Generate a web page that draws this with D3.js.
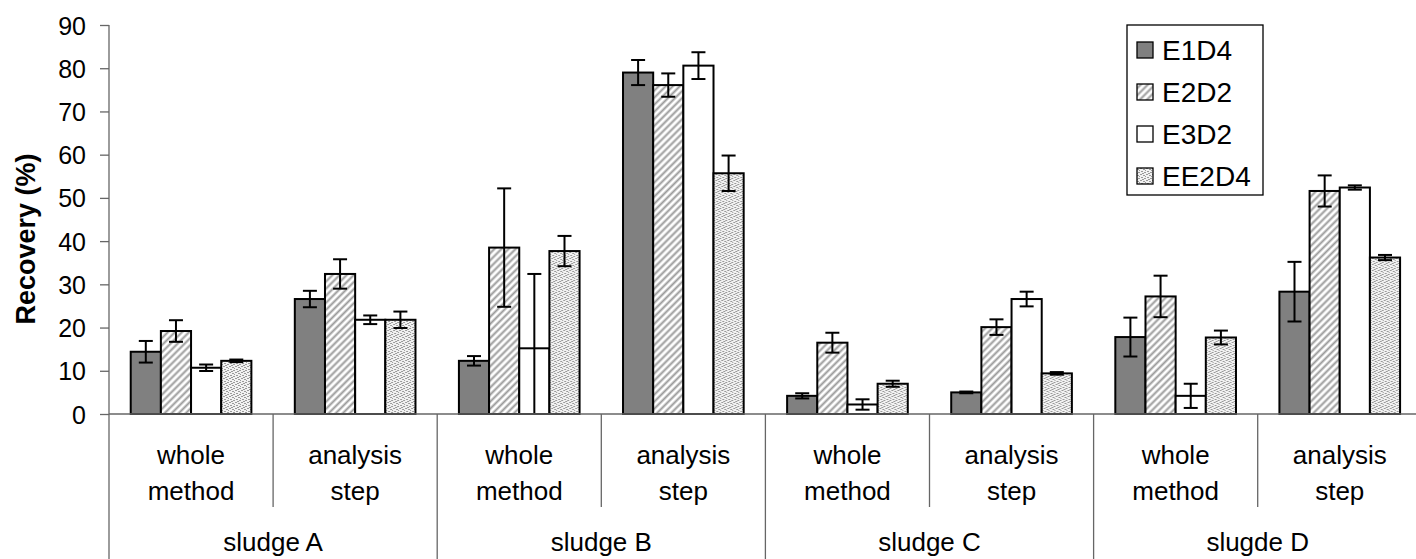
<!DOCTYPE html>
<html lang="en">
  <head>
    <meta charset="UTF-8" />
    <title>Recovery by sludge and step</title>
    <script src="https://d3js.org/d3.v7.min.js"></script>
    <style>
      body {
        margin: 0;
        background: #fff;
        font-family: Arial, "Liberation Sans", sans-serif;
      }
      .axis path,
      .axis line {
        stroke: #666;
        stroke-width: 1.3px;
      }
      .axis text {
        font-size: 25px;
        fill: #000;
      }
    </style>
  </head>
  <body>
    <script>
      // data (8 columns: sludge A..D x whole method / analysis step)
      var groups = ["sludge A", "sludge B", "sludge C", "slugde D"];
      var steps = [["whole", "method"], ["analysis", "step"]];
      var seriesNames = ["E1D4", "E2D2", "E3D2", "EE2D4"];

      var e1d4 = [14.4, 26.6, 12.3, 79.0, 4.2, 5.0, 17.8, 28.3];
      var e1d4Err = [2.5, 1.9, 1.1, 2.9, 0.6, 0.2, 4.5, 6.9];
      var e2d2 = [19.2, 32.4, 38.5, 76.1, 16.5, 20.1, 27.2, 51.6];
      var e2d2Err = [2.5, 3.4, 13.7, 2.7, 2.3, 1.8, 4.8, 3.6];
      var e3d2 = [10.7, 21.8, 15.2, 80.6, 2.2, 26.6, 4.2, 52.4];
      var e3d2Err = [0.75, 1.0, 17.2, 3.1, 1.2, 1.7, 2.8, 0.5];
      var ee2d4 = [12.3, 21.8, 37.7, 55.7, 7.0, 9.4, 17.7, 36.2];
      var ee2d4Err = [0.3, 1.9, 3.5, 4.1, 0.7, 0.3, 1.6, 0.6];

      var yTicks = [0, 10, 20, 30, 40, 50, 60, 70, 80, 90];

      var values = [e1d4, e2d2, e3d2, ee2d4];
      var errors = [e1d4Err, e2d2Err, e3d2Err, ee2d4Err];

      var width = 1416,
        height = 559;
      var margin = { top: 25, left: 109, bottom: 145 };
      var plotRight = margin.left + 8 * 164.1;

      var svg = d3
        .select("body")
        .append("svg")
        .attr("width", width)
        .attr("height", height);

      var defs = svg.append("defs");

      // diagonal hatch for E2D2
      var hatch = defs
        .append("pattern")
        .attr("id", "hatch")
        .attr("patternUnits", "userSpaceOnUse")
        .attr("width", 5)
        .attr("height", 5)
        .attr("patternTransform", "rotate(45)");
      hatch.append("rect").attr("width", 5).attr("height", 5).attr("fill", "#fff");
      hatch
        .append("line")
        .attr("x1", 1.5)
        .attr("x2", 1.5)
        .attr("y1", 0)
        .attr("y2", 5)
        .attr("stroke", "#9a9a9a")
        .attr("stroke-width", 2);

      // stipple for EE2D4
      var dots = defs
        .append("pattern")
        .attr("id", "dots")
        .attr("patternUnits", "userSpaceOnUse")
        .attr("width", 6)
        .attr("height", 6);
      dots.append("rect").attr("width", 6).attr("height", 6).attr("fill", "#f2f2f2");
      [[0, 0], [3, 1], [1, 3], [4, 4], [2, 5], [5, 2]].forEach(function (p) {
        dots
          .append("rect")
          .attr("x", p[0])
          .attr("y", p[1])
          .attr("width", 2)
          .attr("height", 1)
          .attr("fill", "#9a9a9a");
      });

      var fills = ["#808080", "url(#hatch)", "#ffffff", "url(#dots)"];

      var columns = d3.range(8);
      var x0 = d3
        .scaleBand()
        .domain(columns)
        .range([margin.left, plotRight]);
      var x1 = d3
        .scaleBand()
        .domain(seriesNames)
        .range([0, x0.bandwidth()])
        .paddingOuter(0.72);

      var y = d3
        .scaleLinear()
        .domain([0, 90])
        .range([414, margin.top]);

      // y axis
      svg
        .append("g")
        .attr("class", "axis")
        .attr("transform", "translate(" + margin.left + ",0)")
        .call(
          d3.axisLeft(y).tickValues(yTicks).tickSize(9).tickPadding(14)
        )
        .call(function (g) {
          g.select(".domain").attr("d", "M0," + y(90) + "V" + y(0));
          g.selectAll("text").attr("dy", "0.36em");
        });

      svg
        .append("text")
        .attr("transform", "translate(26,239) rotate(-90)")
        .attr("text-anchor", "middle")
        .attr("dominant-baseline", "central")
        .style("font-size", "27px")
        .style("font-weight", "bold")
        .text("Recovery (%)");

      // bars
      var col = svg
        .selectAll(".col")
        .data(columns)
        .enter()
        .append("g")
        .attr("class", "col")
        .attr("transform", function (d) {
          return "translate(" + x0(d) + ",0)";
        });

      seriesNames.forEach(function (name, si) {
        col
          .append("rect")
          .attr("x", x1(name))
          .attr("width", x1.bandwidth())
          .attr("y", function (d) {
            return y(values[si][d]);
          })
          .attr("height", function (d) {
            return y(0) - y(values[si][d]);
          })
          .attr("fill", fills[si])
          .attr("stroke", "#000")
          .attr("stroke-width", 2);
      });

      // error bars
      seriesNames.forEach(function (name, si) {
        var cx = x1(name) + x1.bandwidth() / 2;
        col.each(function (d) {
          var v = values[si][d],
            e = errors[si][d];
          var g = d3.select(this).append("g").attr("stroke", "#000").attr("stroke-width", 2);
          var lo = Math.max(0, v - e);
          g.append("line")
            .attr("x1", cx)
            .attr("x2", cx)
            .attr("y1", y(v + e))
            .attr("y2", y(lo));
          g.append("line")
            .attr("x1", cx - 7)
            .attr("x2", cx + 7)
            .attr("y1", y(v + e))
            .attr("y2", y(v + e));
          if (v - e > 0) {
            g.append("line")
              .attr("x1", cx - 7)
              .attr("x2", cx + 7)
              .attr("y1", y(v - e))
              .attr("y2", y(v - e));
          }
        });
      });

      // x axis line and category separators
      var xa = svg.append("g").attr("class", "axis");
      xa.append("line")
        .attr("x1", margin.left)
        .attr("x2", plotRight)
        .attr("y1", y(0))
        .attr("y2", y(0));
      d3.range(9).forEach(function (i) {
        var xx = margin.left + i * x0.step();
        xa.append("line")
          .attr("x1", xx)
          .attr("x2", xx)
          .attr("y1", y(0))
          .attr("y2", i % 2 === 0 ? height : 507);
      });

      // step labels
      columns.forEach(function (c) {
        var t = svg
          .append("text")
          .attr("x", x0(c) + x0.bandwidth() / 2)
          .attr("y", 464)
          .attr("text-anchor", "middle")
          .style("font-size", "26px");
        steps[c % 2].forEach(function (line, li) {
          t.append("tspan")
            .attr("x", x0(c) + x0.bandwidth() / 2)
            .attr("dy", li === 0 ? 0 : "1.4em")
            .text(line);
        });
      });

      // group labels
      groups.forEach(function (gname, gi) {
        svg
          .append("text")
          .attr("x", x0(gi * 2) + x0.step())
          .attr("y", 551)
          .attr("text-anchor", "middle")
          .style("font-size", "26px")
          .text(gname);
      });

      // legend
      var legend = svg.append("g");
      legend
        .append("rect")
        .attr("x", 1127)
        .attr("y", 25)
        .attr("width", 136)
        .attr("height", 170)
        .attr("fill", "#fff")
        .attr("stroke", "#000")
        .attr("stroke-width", 1.3);
      seriesNames.forEach(function (name, i) {
        var cy = 50 + i * 42;
        legend
          .append("rect")
          .attr("x", 1137)
          .attr("y", cy - 8)
          .attr("width", 16)
          .attr("height", 16)
          .attr("fill", fills[i])
          .attr("stroke", "#000")
          .attr("stroke-width", 1.3);
        legend
          .append("text")
          .attr("x", 1162)
          .attr("y", cy)
          .attr("dy", "0.36em")
          .style("font-size", "28px")
          .text(name);
      });
    </script>
  </body>
</html>
